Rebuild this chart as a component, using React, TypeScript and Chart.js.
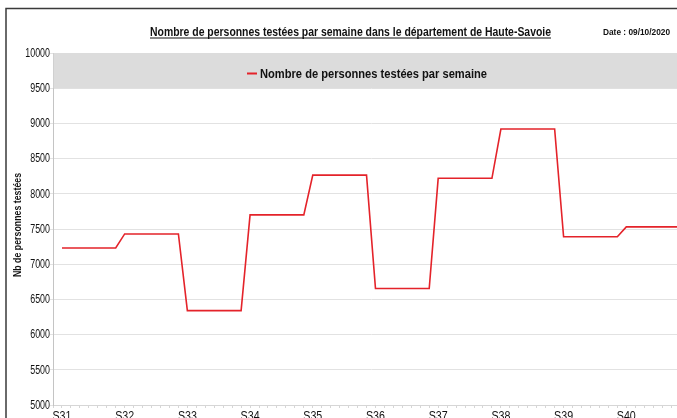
import React, { useEffect, useRef } from 'react';
import { Chart, registerables } from 'chart.js';

Chart.register(...registerables);

const weeks = ['S31', 'S32', 'S33', 'S34', 'S35', 'S36', 'S37', 'S38', 'S39', 'S40'];
const weeklyTested = [7230, 7430, 6340, 7700, 8265, 6655, 8220, 8920, 7390, 7530];
const daysPerWeek = 7;
const yMin = 5000;
const yMax = 10000;
const yStep = 500;
const legendBandFrom = 9500;
const titleText = 'Nombre de personnes testées par semaine dans le département de Haute-Savoie';
const dateText = 'Date : 09/10/2020';
const seriesLabel = 'Nombre de personnes testées par semaine';
const yTitleText = 'Nb de personnes testées';

const FONT = '"Liberation Sans", Arial, sans-serif';
const RED = '#e4232a';
const INK = '#111';

const W = 700;
const H = 440;

function narrowText(
  ctx: CanvasRenderingContext2D,
  text: string,
  x: number,
  y: number,
  font: string,
  sx: number,
  align: CanvasTextAlign,
  baseline: CanvasTextBaseline,
  rot = 0
) {
  ctx.save();
  ctx.translate(x, y);
  if (rot) ctx.rotate(rot);
  ctx.scale(sx, 1);
  ctx.font = font;
  ctx.textAlign = align;
  ctx.textBaseline = baseline;
  ctx.fillStyle = INK;
  ctx.fillText(text, 0, 0);
  ctx.restore();
}

const decorPlugin = {
  id: 'decor',
  beforeDatasetsDraw(chart: any) {
    const { ctx, chartArea, scales } = chart;
    const y = scales.y;
    const top = y.getPixelForValue(yMax);
    const bot = y.getPixelForValue(legendBandFrom);
    ctx.save();
    ctx.fillStyle = '#dcdcdc';
    ctx.fillRect(chartArea.left + 0.5, top, chartArea.right - chartArea.left, bot - top);
    ctx.restore();
  },
  afterDraw(chart: any) {
    const { ctx, chartArea, scales } = chart;
    ctx.save();
    // frame
    ctx.strokeStyle = '#3a3a3a';
    ctx.lineWidth = 1.5;
    ctx.beginPath();
    ctx.moveTo(6, H);
    ctx.lineTo(6, 8.5);
    ctx.lineTo(W, 8.5);
    ctx.stroke();
    // title
    ctx.fillStyle = INK;
    ctx.font = `bold 12px ${FONT}`;
    ctx.textBaseline = 'alphabetic';
    ctx.textAlign = 'left';
    const tw = Math.min(ctx.measureText(titleText).width, 401);
    const tx = 150;
    ctx.fillText(titleText, tx, 36, 401);
    ctx.fillRect(tx, 37.5, tw, 1);
    // date
    ctx.font = `bold 9px ${FONT}`;
    ctx.fillText(dateText, 603, 35, 67);
    // legend
    ctx.strokeStyle = RED;
    ctx.lineWidth = 2;
    ctx.beginPath();
    ctx.moveTo(247, 73.5);
    ctx.lineTo(257, 73.5);
    ctx.stroke();
    ctx.font = `bold 13px ${FONT}`;
    ctx.fillStyle = INK;
    ctx.fillText(seriesLabel, 260, 78, 227);
    ctx.restore();

    // y tick labels
    const ys = scales.y;
    ys.ticks.forEach((t: any) => {
      narrowText(ctx, String(t.value), chartArea.left - 3, ys.getPixelForValue(t.value) + 0.5, `12px ${FONT}`, 0.74, 'right', 'middle');
    });
    // x tick labels
    const xs = scales.x;
    xs.ticks.forEach((t: any) => {
      const n = Number(t.value);
      if (n >= 0 && n % daysPerWeek === 0 && weeks[n / daysPerWeek]) {
        narrowText(ctx, weeks[n / daysPerWeek], xs.getPixelForValue(n), chartArea.bottom + 5, `13px ${FONT}`, 0.82, 'center', 'top');
      }
    });
    // y title
    narrowText(
      ctx,
      yTitleText,
      18,
      (chartArea.top + chartArea.bottom) / 2 - 4,
      `bold 11px ${FONT}`,
      0.8,
      'center',
      'middle',
      -Math.PI / 2
    );
  },
};

export default function App() {
  const ref = useRef<HTMLCanvasElement>(null);
  useEffect(() => {
    if (!ref.current) return;
    const data = weeklyTested.flatMap((v, i) =>
      Array.from({ length: daysPerWeek }, (_, d) => ({ x: i * daysPerWeek + d, y: v }))
    );
    const chart = new Chart(ref.current, {
      type: 'line',
      data: {
        datasets: [
          {
            label: seriesLabel,
            data,
            borderColor: RED,
            backgroundColor: RED,
            borderWidth: 1.6,
            pointRadius: 0,
            tension: 0,
          },
        ],
      },
      options: {
        responsive: false,
        animation: false,
        layout: { padding: { top: 53, left: 0, right: 11, bottom: 0 } },
        plugins: {
          legend: { display: false },
          tooltip: { enabled: false },
          title: { display: false },
        },
        scales: {
          x: {
            type: 'linear',
            min: -1,
            max: weeks.length * daysPerWeek,
            grid: { drawOnChartArea: false, drawTicks: true, tickLength: 3, color: '#d6d6d6' },
            border: { color: '#d6d6d6' },
            ticks: {
              display: false,
              stepSize: 1,
              autoSkip: false,
            },
            afterFit: (s: any) => {
              s.height = H - 405;
            },
          },
          y: {
            min: yMin,
            max: yMax,
            grid: { color: '#e2e2e2', tickLength: 3 },
            border: { color: '#c4c4c4' },
            ticks: {
              display: false,
              stepSize: yStep,
            },
            title: { display: false },
            afterFit: (s: any) => {
              s.width = 53;
            },
          },
        },
      },
      plugins: [decorPlugin],
    } as any);
    return () => chart.destroy();
  }, []);
  return (
    <div
      style={{
        position: 'fixed',
        left: 0,
        top: 0,
        width: 677,
        height: 418,
        overflow: 'hidden',
        background: '#fff',
      }}
    >
      <canvas ref={ref} width={W} height={H} style={{ display: 'block', width: W, height: H }} />
    </div>
  );
}
